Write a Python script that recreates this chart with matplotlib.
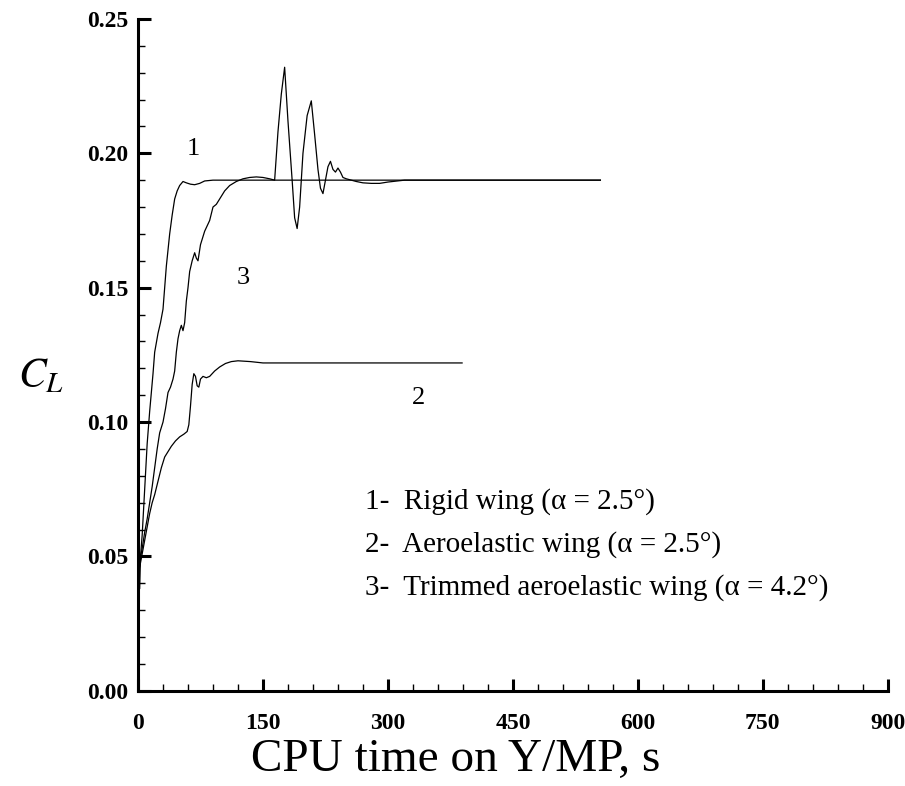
import matplotlib
matplotlib.use("Agg")
import matplotlib.pyplot as plt
from matplotlib.ticker import MultipleLocator

plt.rcParams['font.family'] = ['Liberation Serif', 'DejaVu Serif']
plt.rcParams['mathtext.fontset'] = 'stix'

# 1- rigid wing
rigid_t = [0, 1, 2, 3, 5, 8, 11, 14, 18, 20, 24, 27, 30, 34, 38, 41, 44, 47, 50,
           54, 58, 63, 68, 74, 80, 90, 110, 150, 200, 300, 400, 555]
rigid_cl = [0.035, 0.045, 0.038, 0.050, 0.058, 0.075, 0.092, 0.104, 0.118, 0.126,
            0.133, 0.137, 0.142, 0.158, 0.170, 0.177, 0.183, 0.186, 0.188, 0.1895,
            0.1890, 0.1885, 0.1883, 0.1888, 0.1897, 0.190, 0.190, 0.190, 0.190,
            0.190, 0.190, 0.190]

# 2- aeroelastic wing
aero_t = [0, 1, 2, 5, 8, 11, 14, 17, 20, 24, 28, 32, 36, 40, 45, 50, 55, 59, 61, 63,
          65, 67, 69, 71, 73, 75, 78, 82, 86, 92, 98, 105, 112, 120, 135, 150, 200,
          300, 389]
aero_cl = [0.037, 0.052, 0.046, 0.051, 0.056, 0.061, 0.066, 0.070, 0.073, 0.078,
           0.083, 0.087, 0.089, 0.091, 0.093, 0.0945, 0.0955, 0.0965, 0.099, 0.106,
           0.114, 0.118, 0.117, 0.1135, 0.113, 0.116, 0.117, 0.1165, 0.117, 0.119,
           0.1205, 0.1218, 0.1225, 0.1228, 0.1225, 0.122, 0.122, 0.122, 0.122]

# 3- trimmed aeroelastic wing
trim_t = [0, 1, 2, 5, 8, 11, 14, 17, 20, 23, 26, 28, 30, 33, 36, 39, 42, 44, 46, 48,
          50, 52, 54, 56, 58, 60, 62, 65, 68, 70, 72, 75, 77, 80, 83, 86, 90, 94,
          98, 104, 110, 118, 126, 134, 142, 150, 158, 164, 168, 172, 176, 180, 185,
          188, 191, 194, 198, 203, 208, 212, 216, 219, 222, 225, 228, 231, 234,
          237, 240, 243, 246, 250, 256, 262, 270, 280, 290, 300, 320, 350, 400, 555]
trim_cl = [0.036, 0.058, 0.048, 0.053, 0.059, 0.064, 0.070, 0.076, 0.083, 0.090,
           0.096, 0.098, 0.100, 0.105, 0.111, 0.113, 0.116, 0.119, 0.126, 0.131,
           0.134, 0.136, 0.134, 0.137, 0.145, 0.150, 0.156, 0.160, 0.163, 0.161,
           0.160, 0.166, 0.168, 0.171, 0.173, 0.175, 0.180, 0.181, 0.183, 0.186,
           0.188, 0.1895, 0.1905, 0.191, 0.1912, 0.191, 0.1905, 0.190, 0.208, 0.222,
           0.232, 0.212, 0.190, 0.176, 0.172, 0.180, 0.200, 0.214, 0.2195, 0.207,
           0.194, 0.187, 0.185, 0.190, 0.195, 0.197, 0.194, 0.193, 0.1945, 0.193,
           0.191, 0.1905, 0.190, 0.1895, 0.189, 0.1888, 0.1888, 0.1893, 0.190,
           0.190, 0.190, 0.190]

legend_lines = ["1-  Rigid wing (α = 2.5°)",
                "2-  Aeroelastic wing (α = 2.5°)",
                "3-  Trimmed aeroelastic wing (α = 4.2°)"]

fig = plt.figure(figsize=(9.05, 7.86), dpi=100)
ax = fig.add_axes([0.1525, 0.121, 0.8285, 0.855])

for t, cl in [(rigid_t, rigid_cl), (aero_t, aero_cl), (trim_t, trim_cl)]:
    ax.plot(t, cl, color='black', lw=0.9)

ax.set_xlim(0, 900)
ax.set_ylim(0, 0.25)
ax.xaxis.set_major_locator(MultipleLocator(150))
ax.xaxis.set_minor_locator(MultipleLocator(30))
ax.yaxis.set_major_locator(MultipleLocator(0.05))
ax.yaxis.set_minor_locator(MultipleLocator(0.01))
ax.yaxis.set_major_formatter(plt.FuncFormatter(lambda v, p: '%.2f' % v))

for s in ['top', 'right']:
    ax.spines[s].set_visible(False)
for s in ['left', 'bottom']:
    ax.spines[s].set_linewidth(2.2)

ax.tick_params(which='major', direction='in', length=9, width=2.2, labelsize=17)
ax.tick_params(axis='x', which='major', pad=16)
ax.tick_params(axis='y', which='major', pad=7)
ax.tick_params(which='minor', direction='in', length=5, width=1)
for lab in ax.get_xticklabels() + ax.get_yticklabels():
    lab.set_fontweight('bold')

fig.text(0.504, 0.034, 'CPU time on Y/MP, s', fontsize=34, ha='center', va='center')
fig.text(0.045, 0.52, '$C_L$', fontsize=30, ha='center', va='center')

ax.text(66, 0.2015, '1', fontsize=19, ha='center', va='center')
ax.text(126, 0.1535, '3', fontsize=19, ha='center', va='center')
ax.text(337, 0.109, '2', fontsize=19, ha='center', va='center')

for i, line in enumerate(legend_lines):
    ax.text(272, 0.0703 - i * 0.016, line, fontsize=21, ha='left', va='center')

fig.savefig('out.png', dpi=100)
